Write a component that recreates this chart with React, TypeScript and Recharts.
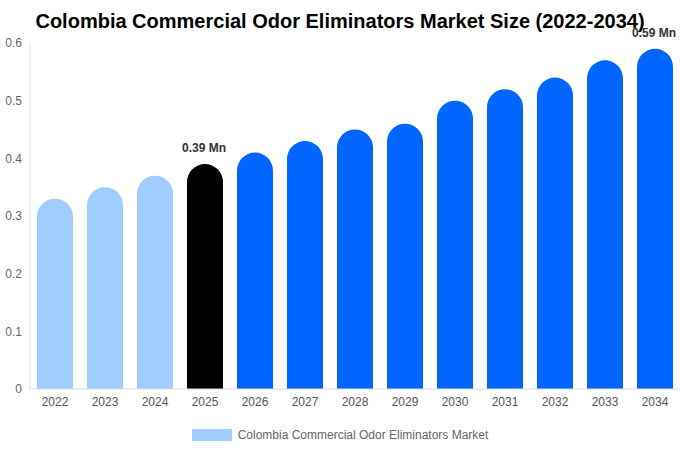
import React from 'react';
import { BarChart, Bar, Cell, XAxis, YAxis, Legend, LabelList } from 'recharts';

const years = ['2022', '2023', '2024', '2025', '2026', '2027', '2028', '2029', '2030', '2031', '2032', '2033', '2034'];
const marketSize = [0.33, 0.35, 0.37, 0.39, 0.41, 0.43, 0.45, 0.46, 0.5, 0.52, 0.54, 0.57, 0.59];
const yTicks = [0, 0.1, 0.2, 0.3, 0.4, 0.5, 0.6];
const labelledYears = ['2025', '2034'];

const seriesName = 'Colombia Commercial Odor Eliminators Market';
const FONT = '"Liberation Sans", Arial, sans-serif';

const data = years.map((year, i) => ({ year, value: marketSize[i] }));

const barColor = (year: string) => {
  if (year === '2025') return '#000000';
  if (Number(year) < 2025) return '#a0cdfe';
  return '#0066ff';
};

const renderValueLabel = (props: any) => {
  const { x, y, width, index } = props;
  if (!labelledYears.includes(years[index])) return null;
  return (
    <text
      x={x + width / 2 - 1}
      y={y - 16}
      textAnchor="middle"
      dominantBaseline="central"
      fontSize={12}
      fontWeight="bold"
      fill="#333"
      fontFamily={FONT}
    >
      {marketSize[index]} Mn
    </text>
  );
};

const renderLegend = () => (
  <div style={{ display: 'flex', justifyContent: 'center', alignItems: 'center', height: 31, fontFamily: FONT }}>
    <span style={{ display: 'inline-block', width: 40, height: 12, background: '#a0cdfe', marginRight: 6 }} />
    <span style={{ fontSize: 12, color: '#666' }}>{seriesName}</span>
  </div>
);

export default function App() {
  return (
    <div style={{ position: 'fixed', left: 0, top: 0, width: 680, height: 450, background: '#fff', fontFamily: FONT }}>
      <div
        style={{
          position: 'absolute',
          top: 9,
          left: 0,
          width: 680,
          textAlign: 'center',
          fontSize: 20,
          fontWeight: 'bold',
          color: '#000',
          lineHeight: '24px',
        }}
      >
        Colombia Commercial Odor Eliminators Market Size (2022-2034)
      </div>
      <BarChart
        width={680}
        height={450}
        data={data}
        margin={{ top: 43, right: 0, left: 0, bottom: 0 }}
        barCategoryGap="14%"
      >
        <XAxis
          dataKey="year"
          height={30}
          tickLine={false}
          axisLine={{ stroke: '#ddd' }}
          tick={{ fill: '#555', fontSize: 12, fontFamily: FONT }}
        />
        <YAxis
          width={30}
          domain={[0, 0.6]}
          ticks={yTicks}
          tickLine={false}
          axisLine={{ stroke: '#ddd' }}
          tick={{ fill: '#666', fontSize: 12, fontFamily: FONT }}
        />
        <Legend verticalAlign="bottom" content={renderLegend} />
        <Bar dataKey="value" name={seriesName} fill="#a0cdfe" radius={[18, 18, 0, 0]} isAnimationActive={false}>
          {data.map((d) => (
            <Cell key={d.year} fill={barColor(d.year)} />
          ))}
          <LabelList dataKey="value" content={renderValueLabel} />
        </Bar>
      </BarChart>
    </div>
  );
}
